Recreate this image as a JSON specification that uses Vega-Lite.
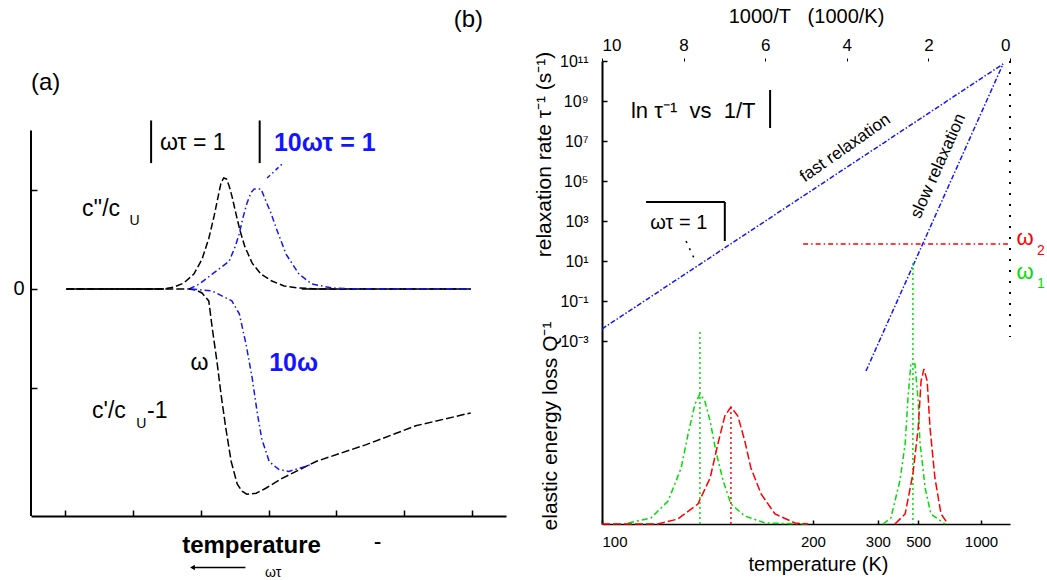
{
"$schema": "https://vega.github.io/schema/vega-lite/v6.json",
"padding": {"left": 12, "top": 6, "right": 0, "bottom": 0},
"spacing": 26,
"config": {"font": "Liberation Sans", "view": {"stroke": null}, "axis": {"grid": false, "domainColor": "black", "tickColor": "black", "labelColor": "black", "titleColor": "black", "titleFontWeight": "normal"}},
"datasets": {
"a_loss_w": [{"u":0.52,"v":0},{"u":1.96,"v":0},{"u":2.11,"v":0.02},{"u":2.25,"v":0.06},{"u":2.40,"v":0.15},{"u":2.52,"v":0.30},{"u":2.62,"v":0.51},{"u":2.70,"v":0.74},{"u":2.76,"v":0.94},{"u":2.80,"v":1.07},{"u":2.84,"v":1.12},{"u":2.88,"v":1.11},{"u":2.92,"v":1.04},{"u":2.96,"v":0.94},{"u":3.02,"v":0.76},{"u":3.08,"v":0.59},{"u":3.15,"v":0.43},{"u":3.26,"v":0.26},{"u":3.39,"v":0.15},{"u":3.55,"v":0.08},{"u":3.73,"v":0.03},{"u":3.95,"v":0.01},{"u":4.24,"v":0},{"u":6.48,"v":0}],
"a_loss_10w": [{"u":2.33,"v":0},{"u":2.48,"v":0.05},{"u":2.67,"v":0.15},{"u":2.92,"v":0.28},{"u":3.01,"v":0.43},{"u":3.07,"v":0.56},{"u":3.12,"v":0.71},{"u":3.18,"v":0.86},{"u":3.24,"v":0.97},{"u":3.29,"v":1.01},{"u":3.39,"v":1.01},{"u":3.46,"v":0.89},{"u":3.54,"v":0.76},{"u":3.61,"v":0.62},{"u":3.76,"v":0.35},{"u":3.95,"v":0.15},{"u":4.14,"v":0.05},{"u":4.44,"v":0.01},{"u":4.79,"v":0},{"u":6.48,"v":0}],
"a_real_w": [{"u":0.52,"v":0},{"u":2.33,"v":0},{"u":2.43,"v":-0.01},{"u":2.52,"v":-0.04},{"u":2.62,"v":-0.12},{"u":2.67,"v":-0.39},{"u":2.74,"v":-0.73},{"u":2.80,"v":-1.06},{"u":2.87,"v":-1.40},{"u":2.95,"v":-1.74},{"u":3.04,"v":-1.97},{"u":3.11,"v":-2.04},{"u":3.18,"v":-2.07},{"u":3.32,"v":-2.06},{"u":3.46,"v":-2.01},{"u":3.70,"v":-1.91},{"u":4.20,"v":-1.74},{"u":4.94,"v":-1.57},{"u":5.67,"v":-1.38},{"u":6.48,"v":-1.25}],
"a_real_10w": [{"u":2.36,"v":0},{"u":2.67,"v":-0.02},{"u":2.96,"v":-0.12},{"u":3.07,"v":-0.25},{"u":3.17,"v":-0.56},{"u":3.26,"v":-0.90},{"u":3.33,"v":-1.23},{"u":3.40,"v":-1.51},{"u":3.51,"v":-1.74},{"u":3.65,"v":-1.82},{"u":3.80,"v":-1.84},{"u":3.95,"v":-1.81},{"u":4.13,"v":-1.77}],
"a_base": [{"u":0.52,"u2":1.96,"v":0},{"u":3.99,"u2":6.48,"v":0}],
"a_bars": [{"u":1.77,"v":1.27,"v2":1.70},{"u":3.37,"v":1.27,"v2":1.70}],
"a_yline": [{"u":0,"v":-2.29,"v2":1.6}],
"a_pointer": [{"u":3.70,"v":1.26},{"u":3.48,"v":1.12}],
"a_arrow": [{"u":2.40,"u2":3.16,"v":-2.81}],
"a_arrowhead": [{"u":2.38,"v":-2.81}],
"a_text_big": [{"u":0,"v":2.08,"text":"(a)"},{"u":6.23,"v":2.71,"text":"(b)"}],
"a_text_black": [{"u":1.90,"v":1.47,"text":"ωτ = 1"},{"u":0.75,"v":0.81,"text":"c''/c"},{"u":0.90,"v":-1.23,"text":"c'/c"},{"u":1.71,"v":-1.23,"text":"-1"},{"u":2.35,"v":-0.75,"text":"ω"},{"u":5.05,"v":-2.55,"text":"-"}],
"a_text_sub": [{"u":1.45,"v":0.69,"text":"U"},{"u":1.55,"v":-1.36,"text":"U"},{"u":3.45,"v":-2.87,"text":"ωτ"}],
"a_text_blue": [{"u":3.58,"v":1.47,"text":"10ωτ = 1"},{"u":3.51,"v":-0.75,"text":"10ω"}],
"b_fast": [{"inv":10,"lr":-2.4},{"inv":0.17,"lr":10.85}],
"b_slow": [{"inv":0.17,"lr":10.85},{"inv":3.53,"lr":-4.5}],
"b_omega2": [{"inv":5.07,"inv2":0.05,"lr":1.85}],
"b_green_v": [{"inv":2.38,"lr":0.9,"lr2":-12.15},{"inv":7.60,"lr":-2.55,"lr2":-12.15}],
"b_red_v": [{"inv":6.84,"lr":-6.3,"lr2":-12.15}],
"b_right": [{"inv":0,"lr":11,"lr2":-2.8}],
"b_boxes": [{"inv":5.88,"inv2":5.88,"lr":9.55,"lr2":7.65},{"inv":8.92,"inv2":6.99,"lr":3.95,"lr2":3.95},{"inv":6.99,"inv2":6.99,"lr":3.95,"lr2":2.0}],
"b_arrow": [{"inv":7.94,"inv2":7.70,"lr":2.0,"lr2":0.95}],
"b_text_big": [{"inv":9.29,"lr":8.5,"text":"ln τ⁻¹\u00a0\u00a0vs\u00a0\u00a01/T"}],
"b_text_mid": [{"inv":8.82,"lr":2.9,"text":"ωτ = 1"}],
"b_text_fast": [{"inv":4.04,"lr":6.65,"text":"fast relaxation"}],
"b_text_slow": [{"inv":1.76,"lr":5.75,"text":"slow relaxation"}],
"b_om_red": [{"inv":-0.37,"lr":2.15,"text":"ω"}],
"b_om_red_sub": [{"inv":-0.76,"lr":1.5,"text":"2"}],
"b_om_green": [{"inv":-0.37,"lr":0.45,"text":"ω"}],
"b_om_green_sub": [{"inv":-0.76,"lr":-0.15,"text":"1"}],
"loss_green": [{"peak":"low","inv":9.36,"loss":0.01},{"peak":"low","inv":8.80,"loss":0.06},{"peak":"low","inv":8.38,"loss":0.23},{"peak":"low","inv":8.06,"loss":0.56},{"peak":"low","inv":7.89,"loss":0.90},{"peak":"low","inv":7.72,"loss":1.20},{"peak":"low","inv":7.60,"loss":1.30},{"peak":"low","inv":7.48,"loss":1.23},{"peak":"low","inv":7.35,"loss":1.03},{"peak":"low","inv":7.21,"loss":0.73},{"peak":"low","inv":7.03,"loss":0.43},{"peak":"low","inv":6.84,"loss":0.20},{"peak":"low","inv":6.50,"loss":0.08},{"peak":"low","inv":6.00,"loss":0.01},{"peak":"low","inv":4.95,"loss":0},
 {"peak":"high","inv":3.11,"loss":0},{"peak":"high","inv":2.92,"loss":0.06},{"peak":"high","inv":2.70,"loss":0.43},{"peak":"high","inv":2.57,"loss":0.80},{"peak":"high","inv":2.50,"loss":1.26},{"peak":"high","inv":2.43,"loss":1.60},{"peak":"high","inv":2.33,"loss":1.60},{"peak":"high","inv":2.25,"loss":1.23},{"peak":"high","inv":2.21,"loss":0.83},{"peak":"high","inv":2.08,"loss":0.36},{"peak":"high","inv":1.94,"loss":0.10},{"peak":"high","inv":1.59,"loss":0}],
"loss_red": [{"peak":"low","inv":10,"loss":0},{"peak":"low","inv":8.63,"loss":0},{"peak":"low","inv":8.14,"loss":0.05},{"peak":"low","inv":7.65,"loss":0.20},{"peak":"low","inv":7.35,"loss":0.46},{"peak":"low","inv":7.16,"loss":0.80},{"peak":"low","inv":6.99,"loss":1.08},{"peak":"low","inv":6.84,"loss":1.17},{"peak":"low","inv":6.67,"loss":1.08},{"peak":"low","inv":6.50,"loss":0.83},{"peak":"low","inv":6.35,"loss":0.56},{"peak":"low","inv":6.10,"loss":0.30},{"peak":"low","inv":5.76,"loss":0.10},{"peak":"low","inv":5.27,"loss":0.01},{"peak":"low","inv":4.95,"loss":0},
 {"peak":"high","inv":2.82,"loss":0},{"peak":"high","inv":2.57,"loss":0.10},{"peak":"high","inv":2.38,"loss":0.50},{"peak":"high","inv":2.25,"loss":0.96},{"peak":"high","inv":2.18,"loss":1.43},{"peak":"high","inv":2.11,"loss":1.55},{"peak":"high","inv":2.03,"loss":1.43},{"peak":"high","inv":1.96,"loss":0.96},{"peak":"high","inv":1.84,"loss":0.46},{"peak":"high","inv":1.69,"loss":0.10},{"peak":"high","inv":1.52,"loss":0}],
"loss_title": [{"inv":11.25,"loss":0.98,"text":"elastic energy loss Q⁻¹"}]
},
"hconcat": [
{
"width": 475, "height": 455,
"layer": [
 {"data": {"name": "a_loss_w"}, "mark": {"type": "line", "color": "black", "strokeWidth": 1.5, "strokeDash": [7, 3]},
  "encoding": {
   "x": {"field": "u", "type": "quantitative", "scale": {"domain": [0, 7], "nice": false, "zero": false},
         "axis": {"values": [0.5, 1.5, 2.5, 3.5, 4.5, 5.5, 6.5], "labels": false, "tickSize": -6, "tickWidth": 1.5, "domainWidth": 2, "title": "temperature", "titleFontSize": 24, "titleFontWeight": "bold", "titlePadding": 17, "titleX": 220}},
   "y": {"field": "v", "type": "quantitative", "scale": {"domain": [-2.29, 2.3], "nice": false, "zero": false},
         "axis": {"values": [-1, 0, 1], "labelExpr": "datum.value == 0 ? '0' : ''", "domain": false, "tickSize": -6, "tickWidth": 1.5, "labelFontSize": 20, "labelPadding": 13, "title": null}}
  }},
 {"data": {"name": "a_base"}, "mark": {"type": "rule", "color": "black", "strokeWidth": 1.5},
  "encoding": {"x": {"field": "u", "type": "quantitative", "scale": {"domain": [0, 7], "nice": false}}, "x2": {"field": "u2"}, "y": {"field": "v", "type": "quantitative", "scale": {"domain": [-2.29, 2.3], "nice": false}}}},
 {"data": {"name": "a_loss_10w"}, "mark": {"type": "line", "color": "#1414ff", "strokeWidth": 1.5, "strokeDash": [6, 3, 1.5, 3]},
  "encoding": {"x": {"field": "u", "type": "quantitative", "scale": {"domain": [0, 7], "nice": false}}, "y": {"field": "v", "type": "quantitative", "scale": {"domain": [-2.29, 2.3], "nice": false}}}},
 {"data": {"name": "a_real_w"}, "mark": {"type": "line", "color": "black", "strokeWidth": 1.5, "strokeDash": [8, 3]},
  "encoding": {"x": {"field": "u", "type": "quantitative", "scale": {"domain": [0, 7], "nice": false}}, "y": {"field": "v", "type": "quantitative", "scale": {"domain": [-2.29, 2.3], "nice": false}}}},
 {"data": {"name": "a_real_10w"}, "mark": {"type": "line", "color": "#1414ff", "strokeWidth": 1.5, "strokeDash": [6, 3, 1.5, 3]},
  "encoding": {"x": {"field": "u", "type": "quantitative", "scale": {"domain": [0, 7], "nice": false}}, "y": {"field": "v", "type": "quantitative", "scale": {"domain": [-2.29, 2.3], "nice": false}}}},
 {"data": {"name": "a_yline"}, "mark": {"type": "rule", "color": "black", "strokeWidth": 2},
  "encoding": {"x": {"field": "u", "type": "quantitative", "scale": {"domain": [0, 7], "nice": false}}, "y": {"field": "v", "type": "quantitative", "scale": {"domain": [-2.29, 2.3], "nice": false}}, "y2": {"field": "v2"}}},
 {"data": {"name": "a_bars"}, "mark": {"type": "rule", "color": "black", "strokeWidth": 2},
  "encoding": {"x": {"field": "u", "type": "quantitative", "scale": {"domain": [0, 7], "nice": false}}, "y": {"field": "v", "type": "quantitative", "scale": {"domain": [-2.29, 2.3], "nice": false}}, "y2": {"field": "v2"}}},
 {"data": {"name": "a_pointer"}, "mark": {"type": "line", "color": "#1414ff", "strokeWidth": 1.5, "strokeDash": [4, 3, 1.5, 3]},
  "encoding": {"x": {"field": "u", "type": "quantitative", "scale": {"domain": [0, 7], "nice": false}}, "y": {"field": "v", "type": "quantitative", "scale": {"domain": [-2.29, 2.3], "nice": false}}}},
 {"data": {"name": "a_arrow"}, "mark": {"type": "rule", "color": "black", "strokeWidth": 1.5},
  "encoding": {"x": {"field": "u", "type": "quantitative", "scale": {"domain": [0, 7], "nice": false}}, "x2": {"field": "u2"}, "y": {"field": "v", "type": "quantitative", "scale": {"domain": [-2.29, 2.3], "nice": false}}}},
 {"data": {"name": "a_arrowhead"}, "mark": {"type": "point", "shape": "triangle-left", "filled": true, "color": "black", "size": 30, "opacity": 1},
  "encoding": {"x": {"field": "u", "type": "quantitative", "scale": {"domain": [0, 7], "nice": false}}, "y": {"field": "v", "type": "quantitative", "scale": {"domain": [-2.29, 2.3], "nice": false}}}},
 {"data": {"name": "a_text_big"}, "mark": {"type": "text", "align": "left", "baseline": "middle", "fontSize": 24, "color": "black"},
  "encoding": {"x": {"field": "u", "type": "quantitative", "scale": {"domain": [0, 7], "nice": false}}, "y": {"field": "v", "type": "quantitative", "scale": {"domain": [-2.29, 2.3], "nice": false}}, "text": {"field": "text", "type": "nominal"}}},
 {"data": {"name": "a_text_black"}, "mark": {"type": "text", "align": "left", "baseline": "middle", "fontSize": 23, "color": "black"},
  "encoding": {"x": {"field": "u", "type": "quantitative", "scale": {"domain": [0, 7], "nice": false}}, "y": {"field": "v", "type": "quantitative", "scale": {"domain": [-2.29, 2.3], "nice": false}}, "text": {"field": "text", "type": "nominal"}}},
 {"data": {"name": "a_text_sub"}, "mark": {"type": "text", "align": "left", "baseline": "middle", "fontSize": 14, "color": "black"},
  "encoding": {"x": {"field": "u", "type": "quantitative", "scale": {"domain": [0, 7], "nice": false}}, "y": {"field": "v", "type": "quantitative", "scale": {"domain": [-2.29, 2.3], "nice": false}}, "text": {"field": "text", "type": "nominal"}}},
 {"data": {"name": "a_text_blue"}, "mark": {"type": "text", "align": "left", "baseline": "middle", "fontSize": 25, "fontWeight": "bold", "color": "#1414ff"},
  "encoding": {"x": {"field": "u", "type": "quantitative", "scale": {"domain": [0, 7], "nice": false}}, "y": {"field": "v", "type": "quantitative", "scale": {"domain": [-2.29, 2.3], "nice": false}}, "text": {"field": "text", "type": "nominal"}}}
]
},
{
"width": 408, "height": 463,
"layer": [
 {"layer": [
  {"data": {"name": "b_fast"}, "mark": {"type": "line", "color": "#1414ff", "strokeWidth": 1.5, "strokeDash": [5, 2, 1.5, 2]},
   "encoding": {
    "x": {"field": "inv", "type": "quantitative", "scale": {"domain": [10, 0], "nice": false, "zero": false},
          "axis": {"orient": "top", "values": [10, 8, 6, 4, 2, 0], "domain": false, "tickSize": 3, "labelFontSize": 17, "labelPadding": 4, "title": "1000/T\u00a0\u00a0\u00a0(1000/K)", "titleFontSize": 20, "titlePadding": 10}},
    "y": {"field": "lr", "type": "quantitative", "scale": {"domain": [-12.15, 11], "nice": false, "zero": false},
          "axis": {"values": [11, 9, 7, 5, 3, 1, -1, -3], "labelExpr": "datum.value == 11 ? '10¹¹' : datum.value == 9 ? '10⁹' : datum.value == 7 ? '10⁷' : datum.value == 5 ? '10⁵' : datum.value == 3 ? '10³' : datum.value == 1 ? '10¹' : datum.value == -1 ? '10⁻¹' : '10⁻³'", "domainWidth": 2, "tickSize": -5, "tickWidth": 1.5, "labelFontSize": 16, "labelPadding": 19, "title": "relaxation rate τ⁻¹ (s⁻¹)", "titleFontSize": 21, "titleX": -48, "titleY": 93}}
   }},
  {"data": {"name": "b_slow"}, "mark": {"type": "line", "color": "#1414ff", "strokeWidth": 1.5, "strokeDash": [5, 2, 1.5, 2]},
   "encoding": {"x": {"field": "inv", "type": "quantitative", "scale": {"domain": [10, 0], "nice": false}}, "y": {"field": "lr", "type": "quantitative", "scale": {"domain": [-12.15, 11], "nice": false}}}},
  {"data": {"name": "b_omega2"}, "mark": {"type": "rule", "color": "#ff0000", "strokeWidth": 1.5, "strokeDash": [5, 3, 1.5, 3]},
   "encoding": {"x": {"field": "inv", "type": "quantitative", "scale": {"domain": [10, 0], "nice": false}}, "x2": {"field": "inv2"}, "y": {"field": "lr", "type": "quantitative", "scale": {"domain": [-12.15, 11], "nice": false}}}},
  {"data": {"name": "b_green_v"}, "mark": {"type": "rule", "color": "#00dd00", "strokeWidth": 1.5, "strokeDash": [2, 3]},
   "encoding": {"x": {"field": "inv", "type": "quantitative", "scale": {"domain": [10, 0], "nice": false}}, "y": {"field": "lr", "type": "quantitative", "scale": {"domain": [-12.15, 11], "nice": false}}, "y2": {"field": "lr2"}}},
  {"data": {"name": "b_red_v"}, "mark": {"type": "rule", "color": "#ff0000", "strokeWidth": 1.5, "strokeDash": [2, 3]},
   "encoding": {"x": {"field": "inv", "type": "quantitative", "scale": {"domain": [10, 0], "nice": false}}, "y": {"field": "lr", "type": "quantitative", "scale": {"domain": [-12.15, 11], "nice": false}}, "y2": {"field": "lr2"}}},
  {"data": {"name": "b_right"}, "mark": {"type": "rule", "color": "black", "strokeWidth": 2, "strokeDash": [2, 9]},
   "encoding": {"x": {"field": "inv", "type": "quantitative", "scale": {"domain": [10, 0], "nice": false}}, "y": {"field": "lr", "type": "quantitative", "scale": {"domain": [-12.15, 11], "nice": false}}, "y2": {"field": "lr2"}}},
  {"data": {"name": "b_boxes"}, "mark": {"type": "rule", "color": "black", "strokeWidth": 2},
   "encoding": {"x": {"field": "inv", "type": "quantitative", "scale": {"domain": [10, 0], "nice": false}}, "x2": {"field": "inv2"}, "y": {"field": "lr", "type": "quantitative", "scale": {"domain": [-12.15, 11], "nice": false}}, "y2": {"field": "lr2"}}},
  {"data": {"name": "b_arrow"}, "mark": {"type": "rule", "color": "black", "strokeWidth": 1.5, "strokeDash": [2, 6]},
   "encoding": {"x": {"field": "inv", "type": "quantitative", "scale": {"domain": [10, 0], "nice": false}}, "x2": {"field": "inv2"}, "y": {"field": "lr", "type": "quantitative", "scale": {"domain": [-12.15, 11], "nice": false}}, "y2": {"field": "lr2"}}},
  {"data": {"name": "b_text_big"}, "mark": {"type": "text", "align": "left", "baseline": "middle", "fontSize": 22, "color": "black"},
   "encoding": {"x": {"field": "inv", "type": "quantitative", "scale": {"domain": [10, 0], "nice": false}}, "y": {"field": "lr", "type": "quantitative", "scale": {"domain": [-12.15, 11], "nice": false}}, "text": {"field": "text", "type": "nominal"}}},
  {"data": {"name": "b_text_mid"}, "mark": {"type": "text", "align": "left", "baseline": "middle", "fontSize": 20, "color": "black"},
   "encoding": {"x": {"field": "inv", "type": "quantitative", "scale": {"domain": [10, 0], "nice": false}}, "y": {"field": "lr", "type": "quantitative", "scale": {"domain": [-12.15, 11], "nice": false}}, "text": {"field": "text", "type": "nominal"}}},
  {"data": {"name": "b_text_fast"}, "mark": {"type": "text", "align": "center", "baseline": "middle", "fontSize": 17, "angle": -35, "color": "black"},
   "encoding": {"x": {"field": "inv", "type": "quantitative", "scale": {"domain": [10, 0], "nice": false}}, "y": {"field": "lr", "type": "quantitative", "scale": {"domain": [-12.15, 11], "nice": false}}, "text": {"field": "text", "type": "nominal"}}},
  {"data": {"name": "b_text_slow"}, "mark": {"type": "text", "align": "center", "baseline": "middle", "fontSize": 17, "angle": -66, "color": "black"},
   "encoding": {"x": {"field": "inv", "type": "quantitative", "scale": {"domain": [10, 0], "nice": false}}, "y": {"field": "lr", "type": "quantitative", "scale": {"domain": [-12.15, 11], "nice": false}}, "text": {"field": "text", "type": "nominal"}}},
  {"data": {"name": "b_om_red"}, "mark": {"type": "text", "align": "center", "baseline": "middle", "fontSize": 22, "color": "#ff0000"},
   "encoding": {"x": {"field": "inv", "type": "quantitative", "scale": {"domain": [10, 0], "nice": false}}, "y": {"field": "lr", "type": "quantitative", "scale": {"domain": [-12.15, 11], "nice": false}}, "text": {"field": "text", "type": "nominal"}}},
  {"data": {"name": "b_om_red_sub"}, "mark": {"type": "text", "align": "center", "baseline": "middle", "fontSize": 14, "color": "#ff0000"},
   "encoding": {"x": {"field": "inv", "type": "quantitative", "scale": {"domain": [10, 0], "nice": false}}, "y": {"field": "lr", "type": "quantitative", "scale": {"domain": [-12.15, 11], "nice": false}}, "text": {"field": "text", "type": "nominal"}}},
  {"data": {"name": "b_om_green"}, "mark": {"type": "text", "align": "center", "baseline": "middle", "fontSize": 22, "color": "#00dd00"},
   "encoding": {"x": {"field": "inv", "type": "quantitative", "scale": {"domain": [10, 0], "nice": false}}, "y": {"field": "lr", "type": "quantitative", "scale": {"domain": [-12.15, 11], "nice": false}}, "text": {"field": "text", "type": "nominal"}}},
  {"data": {"name": "b_om_green_sub"}, "mark": {"type": "text", "align": "center", "baseline": "middle", "fontSize": 14, "color": "#00dd00"},
   "encoding": {"x": {"field": "inv", "type": "quantitative", "scale": {"domain": [10, 0], "nice": false}}, "y": {"field": "lr", "type": "quantitative", "scale": {"domain": [-12.15, 11], "nice": false}}, "text": {"field": "text", "type": "nominal"}}}
 ]},
 {"layer": [
  {"data": {"name": "loss_green"}, "mark": {"type": "line", "color": "#00dd00", "strokeWidth": 1.5, "strokeDash": [6, 3, 2, 3]},
   "encoding": {
    "x": {"field": "inv", "type": "quantitative", "scale": {"domain": [10, 0], "nice": false, "zero": false},
          "axis": {"orient": "bottom", "values": [10, 4.83, 3.24, 2.25, 0.71], "labelExpr": "datum.value == 10 ? '100' : datum.value == 4.83 ? '200' : datum.value == 3.24 ? '300' : datum.value == 2.25 ? '500' : '1000'", "domainWidth": 1.5, "tickSize": -4, "tickWidth": 1.5, "labelFontSize": 15, "labelPadding": 14, "title": "temperature (K)", "titleFontSize": 20, "titlePadding": 5, "titleX": 216}},
    "y": {"field": "loss", "type": "quantitative", "scale": {"domain": [0, 4.63], "nice": false, "zero": false}, "axis": null},
    "detail": {"field": "peak", "type": "nominal"}
   }},
  {"data": {"name": "loss_red"}, "mark": {"type": "line", "color": "#ff0000", "strokeWidth": 1.5, "strokeDash": [8, 3]},
   "encoding": {"x": {"field": "inv", "type": "quantitative", "scale": {"domain": [10, 0], "nice": false}}, "y": {"field": "loss", "type": "quantitative", "scale": {"domain": [0, 4.63], "nice": false}}, "detail": {"field": "peak", "type": "nominal"}}},
  {"data": {"name": "loss_title"}, "mark": {"type": "text", "align": "center", "baseline": "middle", "fontSize": 21, "angle": -90, "color": "black"},
   "encoding": {"x": {"field": "inv", "type": "quantitative", "scale": {"domain": [10, 0], "nice": false}}, "y": {"field": "loss", "type": "quantitative", "scale": {"domain": [0, 4.63], "nice": false}}, "text": {"field": "text", "type": "nominal"}}}
 ]}
],
"resolve": {"scale": {"x": "independent", "y": "independent"}}
}
]
}
